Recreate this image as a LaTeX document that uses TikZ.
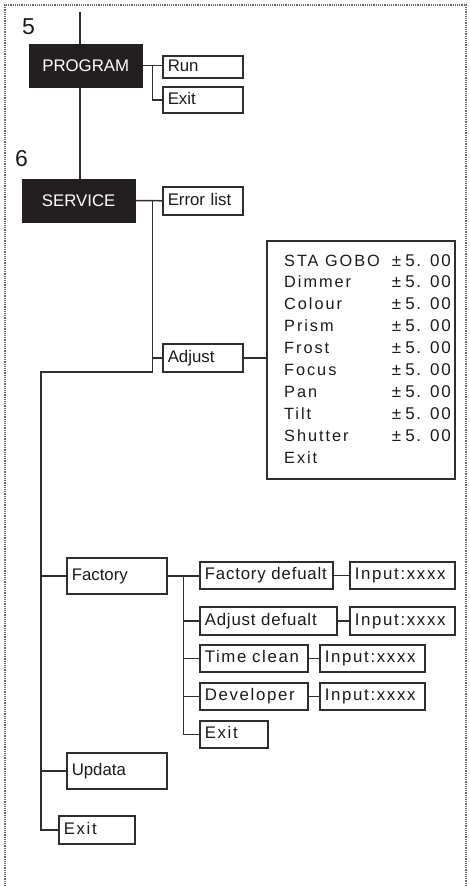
\documentclass[tikz,border=0pt]{standalone}
\usepackage{fontspec}
\setmainfont{Liberation Sans}
\newfontfamily\trackfont[LetterSpace=10]{Liberation Sans}
\newfontfamily\lighttrack[LetterSpace=5]{Liberation Sans}
\usetikzlibrary{positioning,calc}
\definecolor{ink}{HTML}{2E2E2E}
\definecolor{txt}{HTML}{1A1A1A}
\definecolor{panel}{HTML}{231F20}
\definecolor{dotgrey}{HTML}{6A6A6A}
\newcommand{\tolval}{±\hspace{4pt}5.\hspace{9pt}00}
\tikzset{
  menubox/.style={rectangle, draw=ink, fill=white, line width=1.5pt, anchor=north west,
                  inner xsep=5pt, inner ysep=0pt, align=left, text=txt,
                  text height=12pt, text depth=3.5pt, font=\fontsize{16.8}{19}\selectfont},
  trackbox/.style={menubox, font=\fontsize{16.8}{19}\selectfont\trackfont},
  lighttrackbox/.style={menubox, font=\fontsize{16.8}{19}\selectfont\lighttrack},
  darkbox/.style={rectangle, draw=panel, fill=panel, anchor=north west, text=white,
                  inner sep=0pt, minimum width=113pt, minimum height=43pt,
                  font=\fontsize{16.8}{19}\selectfont},
  rowtxt/.style={anchor=base west, inner sep=0pt, text=txt,
                 font=\fontsize{16.3}{19}\selectfont\addfontfeature{LetterSpace=12}},
  rowval/.style={anchor=base east, inner sep=0pt, text=txt, font=\fontsize{17}{19}\selectfont\trackfont},
  numlbl/.style={anchor=base west, inner sep=0pt, text=txt, font=\fontsize{23}{26}\selectfont},
  link/.style={draw=ink, line width=1.5pt},
  frame/.style={draw=dotgrey, line width=1.2pt, densely dotted}
}
\begin{document}
\begin{tikzpicture}[x=1pt, y=-1pt]
 \useasboundingbox (0,0) rectangle (469,887);
 \draw[frame] (5,895) -- (5,5) -- (466,5) -- (466,895);
 % level 5 and 6
 \node[numlbl] (n5) at (22,34) {5};
 \node[numlbl] (n6) at (15,166) {6};
 \node[darkbox] (prog) at (29,44) {PROGRAM};
 \node[darkbox] (serv) at (22,179) {SERVICE};
 \node[menubox, text width=70pt, minimum height=22pt] (run) at (162,55) {Run};
 \node[menubox, text width=70pt, minimum height=26pt] (pexit) at (162,86) {Exit};
 \node[menubox, text width=70pt, minimum height=28pt] (errl) at (162,186) {Error list};
 \node[menubox, text width=70pt, minimum height=28pt] (adj) at (162,343) {Adjust};
 \node[rectangle, draw=ink, line width=1.5pt, anchor=north west, minimum width=188pt,
       minimum height=238pt] (tab) at (266,240) {};
 % adjust table
 \foreach \lbl [count=\i from 0] in {STA GOBO,Dimmer,Colour,Prism,Frost,Focus,Pan,Tilt,Shutter,Exit}
   \node[rowtxt] (row\i) at (284,{266+21.9*\i}) {\lbl};
 \foreach \i in {0,...,8}
   \node[rowval] (val\i) at (451,{266+21.9*\i}) {\tolval};
 % service sub-menus
 \node[menubox, text width=90pt, minimum height=36pt] (fact) at (66,557) {Factory};
 \node[menubox, text width=90pt, minimum height=36pt] (upd) at (66,752) {Updata};
 \node[trackbox, text width=66pt, minimum height=28pt] (sexit) at (58,815) {Exit};
 \node[lighttrackbox, text width=123pt, minimum height=27pt] (fdef) at (199,561) {Factory defualt};
 \node[lighttrackbox, text width=127pt, minimum height=28pt] (adef) at (199,606) {Adjust defualt};
 \node[trackbox, text width=98pt, minimum height=27pt] (tcl) at (199,644) {Time clean};
 \node[trackbox, text width=98pt, minimum height=27pt] (dev) at (199,682) {Developer};
 \node[trackbox, text width=58pt, minimum height=27pt] (fexit) at (199,720) {Exit};
 \node[trackbox, text width=95pt, minimum height=27pt] (in1) at (349,561) {Input:xxxx};
 \node[trackbox, text width=95pt, minimum height=28pt] (in2) at (349,606) {Input:xxxx};
 \node[trackbox, text width=95pt, minimum height=27pt] (in3) at (319,644) {Input:xxxx};
 \node[trackbox, text width=95pt, minimum height=27pt] (in4) at (319,682) {Input:xxxx};
 % connectors
 \coordinate (top) at (80,12);
 \draw[link] (top) -- (top |- prog.north);
 \draw[link] (top |- prog.south) -- (top |- serv.north);
 \coordinate (pj) at ($(prog.east)+(10,0)$);
 \draw[link] (prog.east) -- (pj) |- (pexit.west);
 \draw[link] (pj) -- (pj -| run.west);
 \coordinate (sj) at ($(serv.east)+(17,0)$);
 \coordinate (sk) at (sj |- 0,372);
 \coordinate (lk) at (41,372);
 \draw[link] (serv.east) -- (errl.west);
 \draw[link] (sj) |- (adj.west);
 \draw[link] (sj) -- (sk) -- (lk) |- (sexit.west);
 \draw[link] (adj.east) -- (adj.east -| tab.west);
 \draw[link] (lk |- fact.west) -- (fact.west);
 \draw[link] (lk |- upd.west) -- (upd.west);
 \coordinate (fj) at ($(fact.east)+(16,0)$);
 \draw[link] (fact.east) -- (fj) |- (fexit.west);
 \draw[link] (fj) -- (fj -| fdef.west);
 \draw[link] (fj |- adef.west) -- (adef.west);
 \draw[link] (fj |- tcl.west) -- (tcl.west);
 \draw[link] (fj |- dev.west) -- (dev.west);
 \draw[link] (fdef.east) -- (in1.west);
 \draw[link] (adef.east) -- (in2.west);
 \draw[link] (tcl.east) -- (in3.west);
 \draw[link] (dev.east) -- (in4.west);
\end{tikzpicture}
\end{document}
